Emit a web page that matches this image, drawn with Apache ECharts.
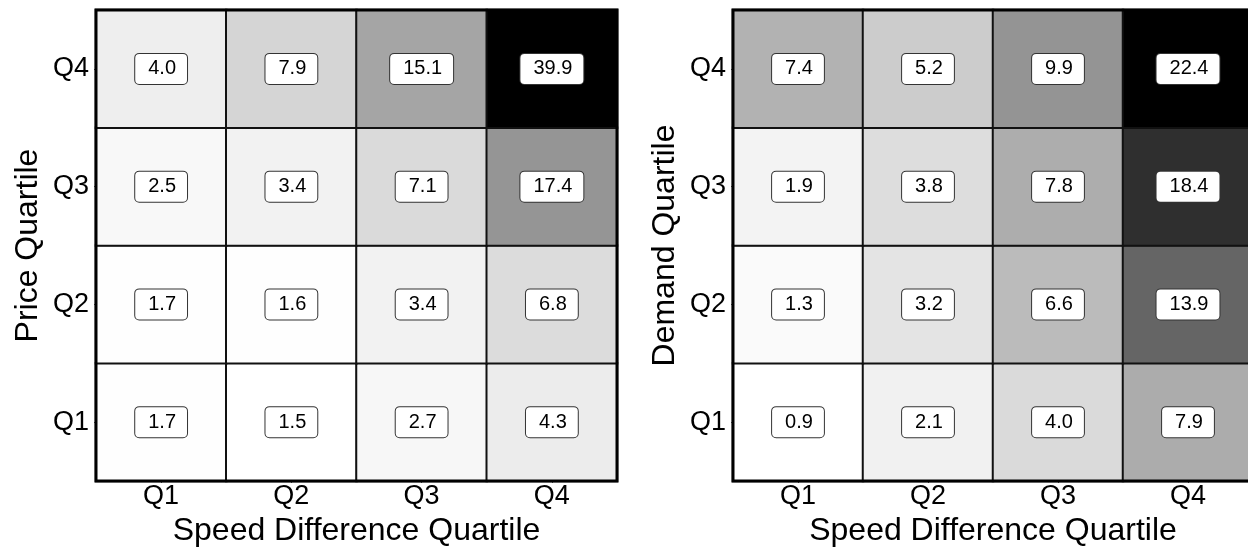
<!DOCTYPE html>
<html>
<head>
<meta charset="utf-8">
<script src="https://cdn.jsdelivr.net/npm/echarts@6/dist/echarts.min.js"></script>
<style>
html,body{margin:0;padding:0;background:#fff;}
#chart{width:1248px;height:548px;}
</style>
</head>
<body>
<div id="chart"></div>
<script>
const xCategories = ['Q1', 'Q2', 'Q3', 'Q4'];
const yCategories = ['Q1', 'Q2', 'Q3', 'Q4'];
// rows listed bottom (Q1) to top (Q4), columns Q1..Q4
const priceValues = [
  [1.7, 1.5, 2.7, 4.3],
  [1.7, 1.6, 3.4, 6.8],
  [2.5, 3.4, 7.1, 17.4],
  [4.0, 7.9, 15.1, 39.9]
];
const demandValues = [
  [0.9, 2.1, 4.0, 7.9],
  [1.3, 3.2, 6.6, 13.9],
  [1.9, 3.8, 7.8, 18.4],
  [7.4, 5.2, 9.9, 22.4]
];
const xTitle = 'Speed Difference Quartile';
const leftYTitle = 'Price Quartile';
const rightYTitle = 'Demand Quartile';

function toTriples(m) {
  const out = [];
  m.forEach((row, yi) => row.forEach((v, xi) => out.push([xi, yi, v])));
  return out;
}
function flat(m) { return m.reduce((a, r) => a.concat(r), []); }

const FONT = '"Liberation Sans", Arial, Helvetica, sans-serif';

function xAxisDef(gi) {
  return {
    type: 'category', gridIndex: gi, data: xCategories, position: 'bottom',
    axisLine: { show: false },
    axisTick: { show: true, alignWithLabel: true, length: 2, lineStyle: { color: '#555' } },
    axisLabel: { fontSize: 27, color: '#000', fontFamily: FONT, margin: 2, lineHeight: 27 },
    splitLine: { show: false },
    name: xTitle, nameLocation: 'middle', nameGap: 27,
    nameTextStyle: { fontSize: 32, color: '#000', fontFamily: FONT }
  };
}
function yAxisDef(gi, title) {
  return {
    type: 'category', gridIndex: gi, data: yCategories,
    axisLine: { show: false },
    axisTick: { show: true, alignWithLabel: true, length: 2, lineStyle: { color: '#555' } },
    axisLabel: { fontSize: 27, color: '#000', fontFamily: FONT, margin: 7 },
    splitLine: { show: false },
    name: title, nameLocation: 'middle', nameGap: 52,
    nameTextStyle: { fontSize: 32, color: '#000', fontFamily: FONT }
  };
}
const labelStyle = {
  show: true,
  formatter: p => p.value[2].toFixed(1),
  fontSize: 20, color: '#000', fontFamily: FONT,
  backgroundColor: '#fff', borderColor: '#333', borderWidth: 1, borderRadius: 4,
  padding: [5, 11, 5, 13]
};

const pv = flat(priceValues), dv = flat(demandValues);

const option = {
  animation: false,
  backgroundColor: '#fff',
  grid: [
    { left: 96, top: 10, width: 521, height: 471, outerBoundsMode: 'none', containLabel: false, show: true, borderColor: '#000', borderWidth: 3, backgroundColor: 'transparent', z: 10 },
    { left: 733, top: 10, width: 520, height: 471, outerBoundsMode: 'none', containLabel: false, show: true, borderColor: '#000', borderWidth: 3, backgroundColor: 'transparent', z: 10 }
  ],
  xAxis: [xAxisDef(0), xAxisDef(1)],
  yAxis: [yAxisDef(0, leftYTitle), yAxisDef(1, rightYTitle)],
  visualMap: [
    { show: false, seriesIndex: 0, min: Math.min(...pv), max: Math.max(...pv), inRange: { color: ['#ffffff', '#000000'] } },
    { show: false, seriesIndex: 1, min: Math.min(...dv), max: Math.max(...dv), inRange: { color: ['#ffffff', '#000000'] } }
  ],
  series: [
    { type: 'heatmap', xAxisIndex: 0, yAxisIndex: 0, data: toTriples(priceValues),
      itemStyle: { borderColor: '#111', borderWidth: 2 }, label: labelStyle, emphasis: { disabled: true } },
    { type: 'heatmap', xAxisIndex: 1, yAxisIndex: 1, data: toTriples(demandValues),
      itemStyle: { borderColor: '#111', borderWidth: 2 }, label: labelStyle, emphasis: { disabled: true } }
  ]
};
const chart = echarts.init(document.getElementById('chart'), null, { renderer: 'canvas' });
chart.setOption(option);
</script>
</body>
</html>
